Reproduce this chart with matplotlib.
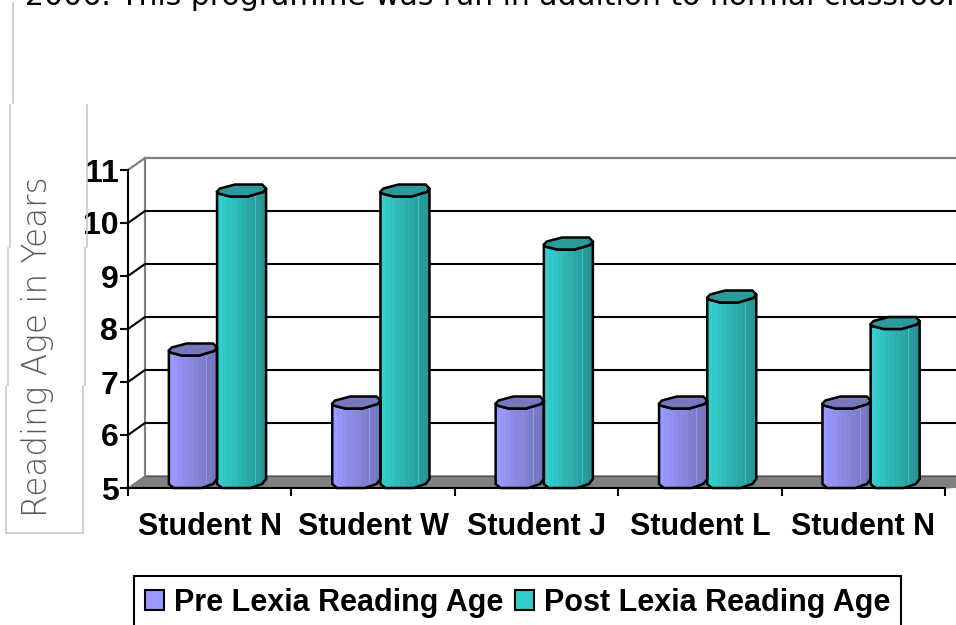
import matplotlib
matplotlib.use('Agg')
import matplotlib.pyplot as plt
from matplotlib.lines import Line2D
from matplotlib.patches import Patch, Polygon

STUDENTS = ['Student N', 'Student W', 'Student J', 'Student L', 'Student N']
PRE_LEXIA = [7.5, 6.5, 6.5, 6.5, 6.5]
POST_LEXIA = [10.5, 10.5, 9.5, 8.5, 8.0]
Y_TICKS = [5, 6, 7, 8, 9, 10, 11]

W, H = 956, 625
plt.rcParams['font.family'] = ['Liberation Sans', 'DejaVu Sans']

fig = plt.figure(figsize=(W / 100, H / 100), dpi=100)
ax = fig.add_axes([128 / W, (H - 488) / H, 817 / W, 318 / H])
ax.set_xlim(0, 5)
ax.set_ylim(5, 11)
ax.patch.set_visible(False)

# one pixel in data units
px = 5 / 817
py = 6 / 318
depth_x = 17 * px
depth_y = 12 * py


def draw_cylinder(left, value, width, light, dark, cap):
    top = [(0, 5), (.06, 8), (.37, 12), (.92, 12), (1, 8), (.94, 4.5), (.63, 0), (.27, 0), (.03, 3)]
    body = [(0, value + 5 * py), (0, 5 + 4 * py), (.1 * width, 5), (.68 * width, 5), (.92 * width, 5 + 4 * py),
            (width, 5 + 9 * py), (width, value + 8 * py), (.94 * width, value + 4.5 * py), (.63 * width, value),
            (.27 * width, value), (.03 * width, value + 3 * py)]
    body = [(left + x, y) for x, y in body]
    outline = Polygon(body, closed=True, fill=False, edgecolor='black', linewidth=1.8, zorder=5, clip_on=False)
    ax.add_patch(outline)

    # stepped shading across the tube
    steps = 10
    for i in range(steps):
        f = i / (steps - 1)
        c = [light[k] + (dark[k] - light[k]) * f for k in range(3)]
        strip = ax.bar(left + i * width / steps, value + 12 * py - 5, bottom=5, width=width / steps + px, color=[c],
                       align='edge', zorder=4)
        strip[0].set_clip_path(outline)

    ax.plot([left + .77 * width] * 2, [5 + 6 * py, value + 2 * py], color=light, lw=0.8, alpha=0.8, zorder=4.5)
    ax.add_patch(Polygon([(left + u * width, value + h * py) for u, h in top], closed=True, facecolor=cap,
                         edgecolor='black', linewidth=1.8, zorder=5, clip_on=False))


# walls and floor
ax.add_patch(Polygon([(0, 5), (depth_x, 5 + depth_y), (5 + depth_x + 1, 5 + depth_y), (5, 5)], closed=True,
                     facecolor='#808080', edgecolor='#808080', lw=1, clip_on=False, zorder=1))
ax.plot([depth_x, 6], [5 + depth_y, 5 + depth_y], color='#555555', lw=1, clip_on=False, zorder=1)
ax.plot([depth_x, depth_x], [5 + depth_y, 11 + depth_y], color='#808080', lw=1.6, clip_on=False, zorder=1)
ax.plot([depth_x, 6], [11 + depth_y, 11 + depth_y], color='#808080', lw=1.6, clip_on=False, zorder=1)
ax.plot([0, depth_x], [11, 11 + depth_y], color='#808080', lw=1.6, clip_on=False, zorder=1)
for v in Y_TICKS[1:-1]:
    ax.plot([0, depth_x, 6], [v, v + depth_y, v + depth_y], color='black', lw=1.5, clip_on=False, zorder=2)

for i, v in enumerate(PRE_LEXIA):
    draw_cylinder(i + .25, v, .295, (.6, .6, 1), (.46, .46, .74), '#7777bb')
for i, v in enumerate(POST_LEXIA):
    draw_cylinder(i + .545, v, .3, (.2, .81, .81), (.16, .58, .58), '#2a9a9a')

ax.spines['top'].set_visible(False)
ax.spines['right'].set_visible(False)
for s in ['left', 'bottom']:
    ax.spines[s].set_linewidth(1.5)
    ax.spines[s].set_zorder(3)
ax.set_yticks(Y_TICKS)
ax.set_xticks(range(6))
ax.set_xticklabels([])
ax.set_xticks([i + .5 for i in range(5)], minor=True)
ax.set_xticklabels(STUDENTS, minor=True, fontsize=22, fontweight='bold')
ax.tick_params(axis='x', which='minor', length=0, pad=17)
ax.tick_params(axis='both', which='major', length=6, width=1.5)
ax.tick_params(axis='y', labelsize=23, pad=1)
for t in ax.get_yticklabels():
    t.set_fontweight('bold')

handles = [Patch(facecolor='#9999ff', edgecolor='black', linewidth=1.5, label='Pre Lexia Reading Age'),
           Patch(facecolor='#33cccc', edgecolor='black', linewidth=1.5, label='Post Lexia Reading Age')]
fig.legend(handles=handles, ncol=2, loc='lower left', bbox_to_anchor=(134 / W, -4 / H), borderaxespad=0,
           fancybox=False, framealpha=1, edgecolor='black', handlelength=0.6, handleheight=0.6, handletextpad=0.33,
           columnspacing=0.4, borderpad=0.37, prop={'size': 22, 'weight': 'bold'}).get_frame().set_linewidth(1.5)

# y title sits in a pale box, cut into slices on the original page
for xs, ys in [((13, 13), (3, 103)), ((10, 10), (105, 247)), ((87, 87), (105, 247)),
               ((8, 8), (248, 385)), ((85, 85), (248, 385)), ((6, 6), (386, 533)), ((83, 83), (386, 533)),
               ((6, 83), (533, 533))]:
    fig.add_artist(Line2D([x / W for x in xs], [1 - y / H for y in ys], color='#c8c8c8', lw=1.2))

fig.text(38 / W, 1 - 347 / H, 'Reading Age in Years', rotation=90, ha='center', va='center', fontsize=23.5,
         color='#5a5a5a', family=['DejaVu Sans'], fontweight='light')
fig.text(25 / W, 1 - 5 / H, '2006. This programme was run in addition to normal classroom', fontsize=21.5,
         color='black', family=['DejaVu Sans'], va='baseline', ha='left')

fig.savefig('out.png', dpi=100)
